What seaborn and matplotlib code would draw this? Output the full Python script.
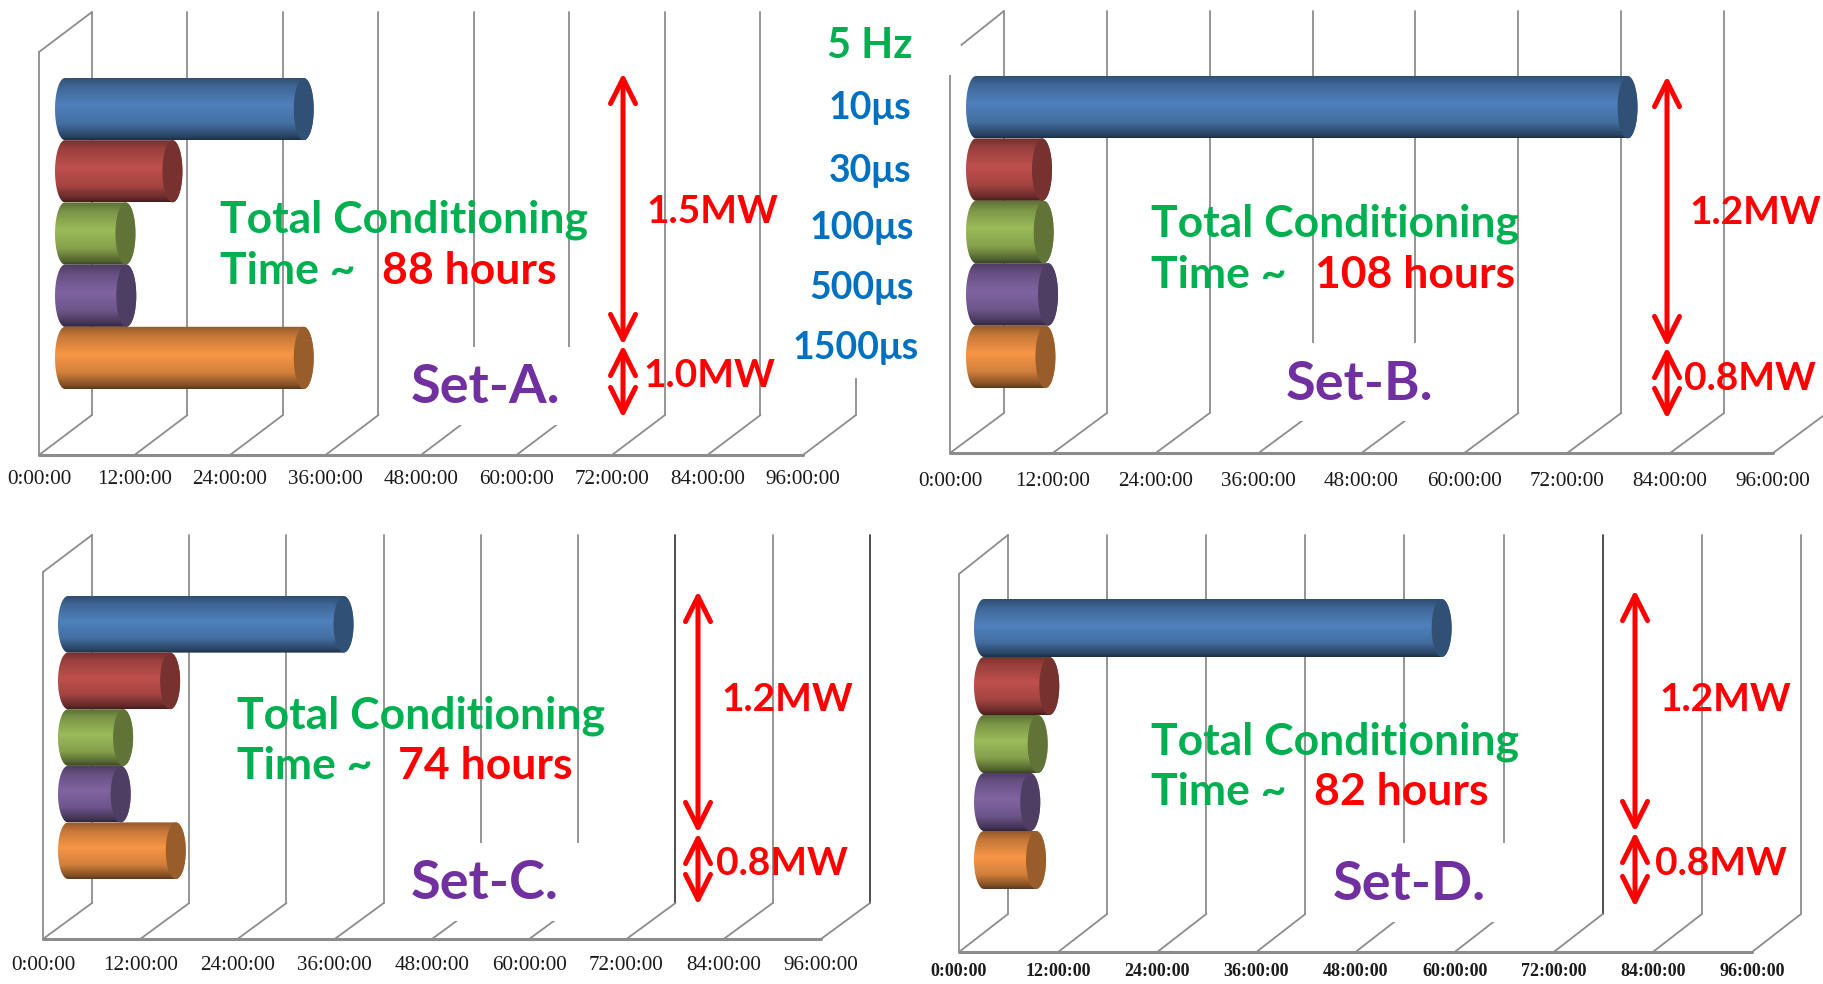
import numpy as np
import pandas as pd
import matplotlib
matplotlib.use('Agg')
import matplotlib.pyplot as plt
from matplotlib.colors import LinearSegmentedColormap, to_rgb
from matplotlib.patches import Ellipse, Polygon, Rectangle
import seaborn as sns

# data
pulse_labels = ['10μs', '30μs', '100μs', '500μs', '1500μs']
bar_colors = ['#4F81BD', '#C0504D', '#9BBB59', '#8064A2', '#F79646']
set_a_hours = [30.0, 13.5, 7.6, 7.7, 30.0]
set_b_hours = [76.0, 7.7, 7.9, 8.4, 8.1]
set_c_hours = [34.0, 12.6, 6.8, 6.5, 13.3]
set_d_hours = [55.4, 7.9, 6.5, 5.6, 6.3]
tick_hours = np.arange(0, 97, 12)

sns.set_theme(style='white')
plt.rcParams['font.family'] = ['Lato', 'DejaVu Sans']

GREEN = '#00B050'
RED = '#FF0000'
PURPLE = '#7030A0'
BLUE = '#0070C0'
W, H = 1824, 984

# layout of each panel in pixels of the full picture
panels = [
    dict(name='Set-A.', hours=set_a_hours, x0=39, xend=803, base=455, back_dx=53, back_dy=40,
         wall_front=52, wall_back=12, bar_x=65, bar_top=78, bar_bot=389, dark=[],
         tick_y=479, tick_size=15.2, tick_bold=False,
         total=(220, 233), time=(220, 284), hrs=('88 hours', 382),
         mw=[('1.5MW', 646, 223), ('1.0MW', 643, 387)], set_xy=(411, 403),
         arrow=(623, 73, 345, 418), masks=[(400, 347, 200, 78), (800, 0, 130, 378)]),
    dict(name='Set-B.', hours=set_b_hours, x0=950, xend=1773, base=453, back_dx=54, back_dy=40,
         wall_front=54, wall_back=11, bar_x=976, bar_top=76, bar_bot=388, dark=[],
         tick_y=482, tick_size=15.2, tick_bold=False,
         total=(1151, 236), time=(1151, 288), hrs=('108 hours', 1315),
         mw=[('1.2MW', 1689, 224), ('0.8MW', 1684, 390)], set_xy=(1286, 400),
         arrow=(1667, 76, 347, 419), masks=[(1225, 343, 275, 78), (935, 45, 26, 30)]),
    dict(name='Set-C.', hours=set_c_hours, x0=43, xend=821, base=939, back_dx=49, back_dy=36,
         wall_front=572, wall_back=535, bar_x=68, bar_top=596, bar_bot=879, dark=[6, 8],
         tick_y=965, tick_size=15.2, tick_bold=False,
         total=(237, 728), time=(237, 779), hrs=('74 hours', 398),
         mw=[('1.2MW', 721, 711), ('0.8MW', 716, 875)], set_xy=(411, 899),
         arrow=(698, 591, 833, 905), masks=[(395, 843, 230, 78)]),
    dict(name='Set-D.', hours=set_d_hours, x0=959, xend=1752, base=952, back_dx=49, back_dy=38,
         wall_front=574, wall_back=535, bar_x=984, bar_top=599, bar_bot=889, dark=[6],
         tick_y=972, tick_size=13, tick_bold=True,
         total=(1151, 755), time=(1151, 805), hrs=('82 hours', 1314),
         mw=[('1.2MW', 1659, 711), ('0.8MW', 1655, 875)], set_xy=(1333, 900),
         arrow=(1635, 590, 832, 907), masks=[(1320, 843, 240, 79)]),
]

fig = plt.figure(figsize=(W / 100, H / 100), dpi=100, facecolor='white')

# frame goes underneath, text on top
frame = fig.add_axes([0, 0, 1, 1], zorder=0)
over = fig.add_axes([0, 0, 1, 1], zorder=5)
for a in (frame, over):
    a.set_xlim(0, W)
    a.set_ylim(H, 0)
    a.axis('off')
    a.patch.set_alpha(0)


def shade(color, f):
    return tuple(c * f for c in to_rgb(color))


def draw_frame(p):
    step = (p['xend'] - p['x0']) / 8
    dx, dy = p['back_dx'], p['back_dy']
    base = p['base']
    for i in range(9):
        xf = p['x0'] + i * step
        c = '#404040' if i in p['dark'] else '#8c8c8c'
        frame.plot([xf + dx, xf + dx], [p['wall_back'], base - dy], color=c, lw=1.3)
        frame.plot([xf, xf + dx], [base, base - dy], color='#8c8c8c', lw=1.3)
    frame.plot([p['x0'], p['x0']], [p['wall_front'], base], color='#8c8c8c', lw=1.3)
    frame.plot([p['x0'], p['x0'] + dx], [p['wall_front'], p['wall_back']], color='#8c8c8c', lw=1.3)
    for m in p['masks']:
        frame.add_patch(Rectangle((m[0], m[1]), m[2], m[3], fc='white', ec='none', zorder=5))
    frame.plot([p['x0'], p['xend']], [base, base], color='#8c8c8c', lw=2.2, zorder=6)
    weight = 'bold' if p['tick_bold'] else 'normal'
    for i, h in enumerate(tick_hours):
        frame.text(p['x0'] + i * step, p['tick_y'], f'{h}:00:00', ha='center', va='center',
                   family='Liberation Serif', fontsize=p['tick_size'], weight=weight, color='#1a1a1a')


def draw_bars(p):
    px_per_h = (p['xend'] - p['x0']) / 96
    left = p['bar_x'] / W
    width = 96 * px_per_h / W
    bottom = 1 - p['bar_bot'] / H
    height = (p['bar_bot'] - p['bar_top']) / H
    ax = fig.add_axes([left, bottom, width, height], zorder=2)
    df = pd.DataFrame({'pulse': pulse_labels, 'hours': p['hours']})
    sns.barplot(data=df, x='hours', y='pulse', hue='pulse', palette=bar_colors, width=1.0,
                dodge=False, legend=False, ax=ax)
    ax.axis('off')
    ax.patch.set_alpha(0)
    # turn every flat bar into a shaded cylinder
    cap = 10 / px_per_h
    t = np.linspace(-np.pi / 2, np.pi / 2, 40)
    grad = np.linspace(0, 1, 64).reshape(-1, 1)
    for bar, color in zip(list(ax.patches), bar_colors):
        x1 = bar.get_width()
        y0 = bar.get_y()
        bh = bar.get_height()
        yc = y0 + bh / 2
        bar.set_visible(False)
        cmap = LinearSegmentedColormap.from_list('c', [(0, shade(color, 0.6)), (0.15, shade(color, 0.8)),
                                                       (0.45, to_rgb(color)), (0.75, shade(color, 0.85)),
                                                       (0.95, shade(color, 0.52)), (1, shade(color, 0.38))])
        im = ax.imshow(grad, cmap=cmap, aspect='auto', extent=(-cap, x1 + cap, y0 + bh, y0), zorder=3)
        outline = np.r_[np.c_[-cap * np.cos(t), yc + bh / 2 * np.sin(t)],
                        np.c_[x1 + cap * np.cos(t[::-1]), yc + bh / 2 * np.sin(t[::-1])]]
        shape = Polygon(outline, closed=True, transform=ax.transData, fc='none', ec='none')
        ax.add_patch(shape)
        im.set_clip_path(shape)
        im.set_clip_box(fig.bbox)
        ax.add_patch(Ellipse((x1, yc), 2 * cap, bh, fc=shade(color, 0.62), ec='none', zorder=4, clip_on=False))
    ax.set_xlim(0, 96)
    ax.set_ylim(4.5, -0.5)


def draw_notes(p):
    over.text(p['total'][0], p['total'][1], 'Total Conditioning', color=GREEN, fontsize=32, weight='bold', va='baseline')
    over.text(p['time'][0], p['time'][1], 'Time ~', color=GREEN, fontsize=32, weight='bold', va='baseline')
    over.text(p['hrs'][1], p['time'][1], p['hrs'][0], color=RED, fontsize=32, weight='bold', va='baseline')
    for label, x, y in p['mw']:
        over.text(x, y, label, color=RED, fontsize=28, weight='bold', va='baseline')
    over.text(p['set_xy'][0], p['set_xy'][1], p['name'], color=PURPLE, fontsize=39, weight='bold', va='baseline')
    ax_x, top, mid, bot = p['arrow']
    for y0, y1 in ((top, mid), (mid, bot)):
        over.annotate('', xy=(ax_x, y1), xytext=(ax_x, y0),
                      arrowprops=dict(arrowstyle='<->,head_length=1.0,head_width=0.5', color=RED, lw=3.6,
                                      shrinkA=0, shrinkB=0, mutation_scale=18))


for p in panels:
    draw_frame(p)
    draw_bars(p)
    draw_notes(p)

# shared list of the pulse settings in the middle of the top row
over.text(870, 46, '5 Hz', color=GREEN, fontsize=30, weight='bold', ha='center', va='center')
label_x = [870, 870, 862, 862, 856]
label_y = [108, 171, 228, 288, 348]
for lab, x, y in zip(pulse_labels, label_x, label_y):
    over.text(x, y, lab, color=BLUE, fontsize=27, weight='bold', ha='center', va='center')

fig.savefig('out.png', dpi=100)
